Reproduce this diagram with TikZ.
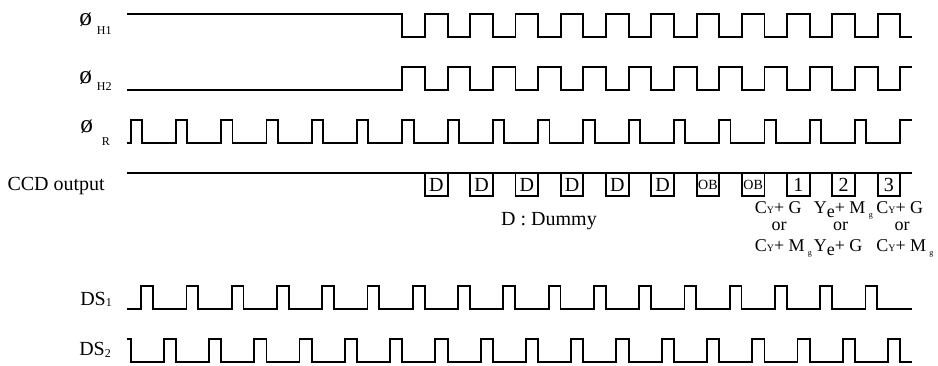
\documentclass[tikz,border=0pt]{standalone}
\usepackage{fontspec}
\setmainfont{Liberation Serif}
\newcommand\cysub{C{\fontsize{7.5}{8}\selectfont Y}}
\newcommand\yesub{Y\raisebox{-3.5pt}{e}}
\newcommand\mgsub{M\hspace{2.5pt}\raisebox{-3pt}{\fontsize{6}{6}\selectfont g}}
\begin{document}
\begin{tikzpicture}[x=0.75pt,y=-0.75pt,
  wave/.style={line width=1.4pt, line join=miter},
  box/.style={draw, line width=1.4pt, minimum width=16.95pt, minimum height=17pt, inner sep=0pt, font=\fontsize{15}{15}\selectfont},
  lbl/.style={font=\fontsize{15}{18}\selectfont, inner sep=0pt},
  phi/.style={font=\fontsize{19}{20}\selectfont, inner sep=0pt, anchor=base west},
  sublbl/.style={font=\fontsize{9}{10}\selectfont, inner sep=0pt, anchor=base west},
  comp/.style={font=\fontsize{13.5}{16}\selectfont, inner sep=0pt, anchor=base west},
  orlbl/.style={font=\fontsize{13.5}{16}\selectfont, inner sep=0pt, anchor=base}]
\useasboundingbox (0,0) rectangle (938,365);
\def\pp{45.27}\def\tz{130.7}\def\xs{126.7}\def\xe{912}
% phi H1
\draw[wave] (\xs,14.3) -- ({\tz+6*\pp},14.3)
  foreach \k in {6,...,16}{ -- ({\tz+\k*\pp},37.3) -- ({\tz+(\k+.5)*\pp},37.3) -- ({\tz+(\k+.5)*\pp},14.3) -- ({\tz+(\k+1)*\pp},14.3) }
  -- ({\tz+17*\pp},37.3) -- (\xe,37.3);
% phi H2
\draw[wave] (\xs,90) -- ({\tz+6*\pp},90)
  foreach \k in {6,...,16}{ -- ({\tz+\k*\pp},66.7) -- ({\tz+(\k+.5)*\pp},66.7) -- ({\tz+(\k+.5)*\pp},90) -- ({\tz+(\k+1)*\pp},90) }
  -- ({\tz+17*\pp},66.7) -- (\xe,66.7);
% phi R
\draw[wave] (\xs,142.7)
  foreach \k in {0,...,16}{ -- ({\tz+\k*\pp},142.7) -- ({\tz+\k*\pp},120) -- ({\tz+(\k+.25)*\pp},120) -- ({\tz+(\k+.25)*\pp},142.7) }
  -- ({\tz+17*\pp},142.7) -- ({\tz+17*\pp},120) -- (\xe,120);
% CCD output
\draw[wave] (\xs,173.3) -- (\xe,173.3);
% DS1
\draw[wave] (\xs,309.3)
  foreach \k in {0,...,16}{ -- ({\tz+\k*\pp+10.5},309.3) -- ({\tz+\k*\pp+10.5},286) -- ({\tz+\k*\pp+22.3},286) -- ({\tz+\k*\pp+22.3},309.3) }
  -- (\xe,309.3);
% DS2
\draw[wave] (\xs,339.3) -- (\tz,339.3) -- (\tz,361.7)
  foreach \k in {0,...,16}{ -- ({\tz+\k*\pp+33},361.7) -- ({\tz+\k*\pp+33},339.3) -- ({\tz+(\k+1)*\pp},339.3) -- ({\tz+(\k+1)*\pp},361.7) }
  -- (\xe,361.7);
% boxes
\foreach \k/\t in {0/D,1/D,2/D,3/D,4/D,5/D,8/1,9/2,10/3}
  \node[box] (b\k) at ({\tz+(\k+6.75)*\pp},184.65) {\t};
\foreach \k in {6,7}
  \node[box, font=\fontsize{10.5}{11}\selectfont] (b\k) at ({\tz+(\k+6.75)*\pp},184.65) {OB};
\node[lbl, anchor=base] (dummy) at (549,225.7) {D : Dummy};
% signal labels
\node[phi] (ph1) at (79,25) {ø};
\node[sublbl] (ph1s) at (96.7,34) {H1};
\node[phi] (ph2) at (79,83) {ø};
\node[sublbl] (ph2s) at (96.7,90.7) {H2};
\node[phi] (phr) at (80,132) {ø};
\node[sublbl] (phrs) at (101.7,145) {R};
\node[lbl, anchor=base west] (ccd) at (7.3,190) {CCD output};
\node[lbl, anchor=base west] (ds1) at (80,305) {DS\raisebox{-0.8pt}{\fontsize{9}{9}\selectfont 1}};
\node[lbl, anchor=base west] (ds2) at (79,355) {DS\raisebox{-1.5pt}{\fontsize{9}{9}\selectfont 2}};
% colour components
\node[comp] (c1a) at (754.5,213.3) {\cysub+ G};
\node[comp] (c2a) at (813.5,213.3) {\yesub+ \mgsub};
\node[comp] (c3a) at (876,213.3) {\cysub+ G};
\node[orlbl] (or1) at (779,230.5) {or};
\node[orlbl] (or2) at (840.5,230.5) {or};
\node[orlbl] (or3) at (902,230.5) {or};
\node[comp] (c1b) at (754.5,251) {\cysub+ \mgsub};
\node[comp] (c2b) at (813.5,251) {\yesub+ G};
\node[comp] (c3b) at (876,251) {\cysub+ \mgsub};
\end{tikzpicture}
\end{document}
